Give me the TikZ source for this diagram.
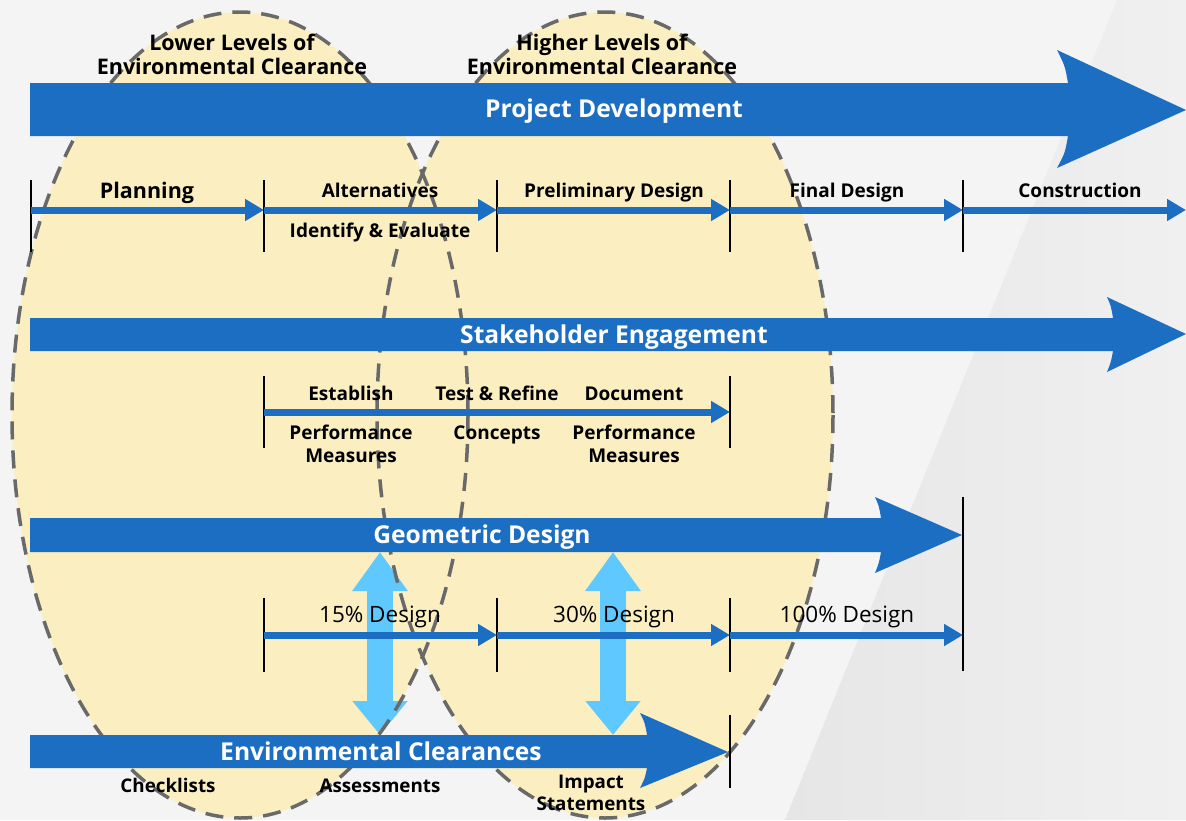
\documentclass[tikz,border=0pt]{standalone}
\usepackage{fontspec}
\setmainfont{Open Sans}
\usetikzlibrary{arrows.meta}

\definecolor{barblue}{RGB}{27,110,194}
\definecolor{linkblue}{RGB}{95,200,255}
\definecolor{ovalfill}{RGB}{251,239,193}
\definecolor{ovaldash}{RGB}{105,105,105}
\definecolor{bgback}{RGB}{244,244,244}
\definecolor{bgshade}{RGB}{230,230,230}

\begin{document}
\begin{tikzpicture}[x=1pt,y=-1pt,
  bar/.style={fill=barblue},
  bar text/.style={text=white,font=\bfseries\fontsize{24.6}{28}\selectfont,anchor=base,inner sep=0pt},
  stage/.style={font=\bfseries\fontsize{19}{23}\selectfont,anchor=base,inner sep=0pt,align=center},
  level/.style={stage,font=\bfseries\fontsize{21.5}{24}\selectfont},
  note/.style={stage,font=\bfseries\fontsize{18.8}{22}\selectfont},
  design/.style={font=\fontsize{22.5}{25}\selectfont,anchor=base,inner sep=0pt},
  tick/.style={line width=2.6pt},
  flow/.style={barblue,line width=7pt,-{Triangle[width=21pt,length=19pt]}},
  link/.style={linkblue,line width=26pt,{Triangle[width=53pt,length=39pt]}-{Triangle[width=53pt,length=34pt]}},
  oval/.style={ovaldash,line width=3.5pt,dash pattern=on 18pt off 11pt}]

  \useasboundingbox (0,0) rectangle (1186,820);

  % background
  \fill[bgback] (0,0) rectangle (1186,820);
  \shade[left color=bgshade,right color=bgshade!60!white]
    (1117,0) -- (1186,0) -- (1186,820) -- (785,820) -- cycle;

  % the two clearance ovals
  \coordinate (lowc) at (240,415);
  \coordinate (highc) at (605,415);
  \fill[ovalfill] (lowc) ellipse [x radius=228,y radius=403];
  \fill[ovalfill] (highc) ellipse [x radius=228,y radius=403];

  % links between geometric design and clearances
  \coordinate (l1a) at (380,552);
  \coordinate (l1b) at (380,735);
  \coordinate (l2a) at (613,552);
  \coordinate (l2b) at (613,735);
  \draw[link] (l1a) -- (l1b);
  \draw[link] (l2a) -- (l2b);

  \draw[oval] (lowc) ellipse [x radius=228,y radius=403];
  \draw[oval] (highc) ellipse [x radius=228,y radius=403];

  % big arrows
  \fill[bar] (30,83) -- (1068,83) .. controls (1065,66) .. (1057,50) -- (1186,110)
    -- (1057,168) .. controls (1065,153) .. (1068,136) -- (30,136) -- cycle;
  \fill[bar] (30,318) -- (1113,318) .. controls (1111,306) .. (1107,297) -- (1186,334)
    -- (1107,372) .. controls (1111,362) .. (1113,351) -- (30,351) -- cycle;
  \fill[bar] (30,518) -- (881,518) .. controls (879,506) .. (875,497) -- (962,535)
    -- (875,573) .. controls (879,563) .. (881,552) -- (30,552) -- cycle;
  \fill[bar] (30,735) -- (647,735) .. controls (645,723) .. (640,713) -- (728,752)
    -- (640,788) .. controls (645,778) .. (647,768) -- (30,768) -- cycle;

  \node[bar text] (pd) at (614,117) {Project Development};
  \node[bar text] (se) at (614,343) {Stakeholder Engagement};
  \node[bar text] (gd) at (482,543) {Geometric Design};
  \node[bar text] (ec) at (381,760) {Environmental Clearances};

  % project phases
  \coordinate (t0) at (31,210);
  \coordinate (t1) at (264,210);
  \coordinate (t2) at (497,210);
  \coordinate (t3) at (730,210);
  \coordinate (t4) at (963,210);
  \coordinate (t5) at (1186,210);
  \foreach \p in {t0,t1,t2,t3,t4}
    \draw[tick] (\p) ++(0,-30) -- ++(0,72);
  \draw[flow] (t0) -- (t1);
  \draw[flow] (t1) -- (t2);
  \draw[flow] (t2) -- (t3);
  \draw[flow] (t3) -- (t4);
  \draw[flow] (t4) -- (t5);

  \node[stage,font=\bfseries\fontsize{21.5}{24}\selectfont] (plan) at (147,198) {Planning};
  \node[stage] (alt) at (380,197) {Alternatives};
  \node[stage] (ide) at (380,237) {Identify \& Evaluate};
  \node[stage] (pre) at (614,197) {Preliminary Design};
  \node[stage] (fin) at (847,197) {Final Design};
  \node[stage] (con) at (1080,197) {Construction};

  % engagement steps
  \coordinate (s1) at (264,412);
  \coordinate (s3) at (730,412);
  \draw[tick] (s1) ++(0,-36) -- ++(0,72);
  \draw[tick] (s3) ++(0,-36) -- ++(0,72);
  \draw[flow] (s1) -- (s3);

  \node[stage] (est) at (351,400) {Establish};
  \node[stage] (pm1) at (351,462) {Performance\\Measures};
  \node[stage] (tst) at (497,400) {Test \& Refine};
  \node[stage] (cpt) at (497,439) {Concepts};
  \node[stage] (doc) at (634,400) {Document};
  \node[stage] (pm2) at (634,462) {Performance\\Measures};

  % design stages
  \coordinate (g1) at (264,635);
  \coordinate (g2) at (497,635);
  \coordinate (g3) at (730,635);
  \coordinate (g4) at (963,635);
  \foreach \p in {g1,g2,g3}
    \draw[tick] (\p) ++(0,-37) -- ++(0,74);
  \draw[tick] (g4) ++(0,-138) -- ++(0,174);
  \draw[flow] (g1) -- (g2);
  \draw[flow] (g2) -- (g3);
  \draw[flow] (g3) -- (g4);

  \node[design] (d15) at (380,622) {15\% Design};
  \node[design] (d30) at (614,622) {30\% Design};
  \node[design] (d100) at (847,622) {100\% Design};

  % clearance end
  \coordinate (e3) at (730,752);
  \draw[tick] (e3) ++(0,-37) -- ++(0,73);

  \node[note] (chk) at (168,792) {Checklists};
  \node[note] (ass) at (380,792) {Assessments};
  \node[note] (imp) at (591,810) {Impact\\Statements};

  % oval titles
  \node[level] (low) at (232,74) {Lower Levels of\\Environmental Clearance};
  \node[level] (high) at (602,74) {Higher Levels of\\Environmental Clearance};

\end{tikzpicture}
\end{document}
